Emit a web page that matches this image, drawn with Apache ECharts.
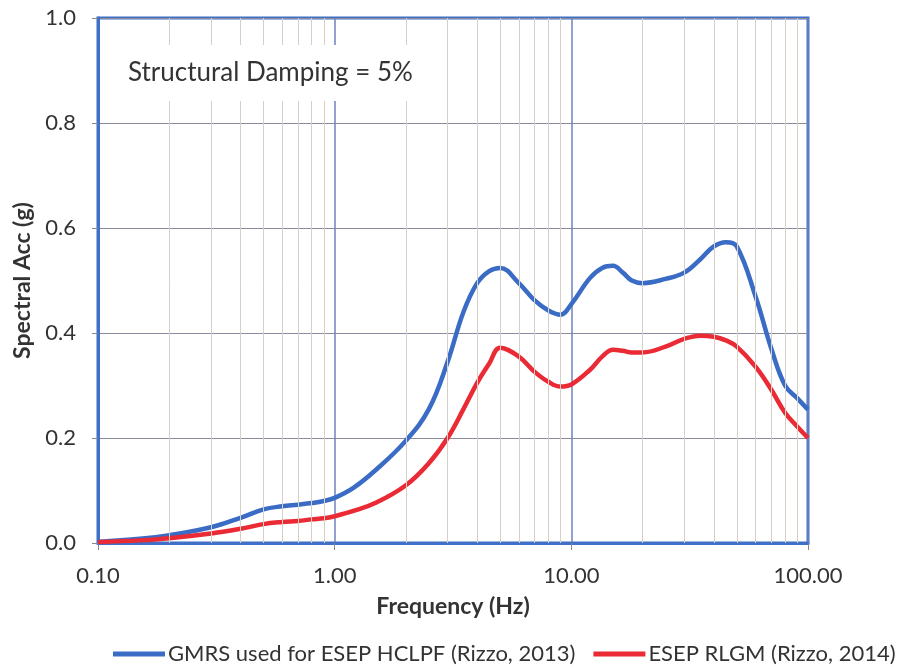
<!DOCTYPE html>
<html>
<head>
<meta charset="utf-8">
<script src="https://cdn.jsdelivr.net/npm/echarts@6/dist/echarts.min.js"></script>
<style>
  html, body { margin: 0; padding: 0; background: #fff; }
  #chart { width: 917px; height: 669px; }
</style>
</head>
<body>
<div id="chart"></div>
<script>
// frequency points (Hz) shared by both spectra
var freq = [0.1, 0.15, 0.2, 0.3, 0.4, 0.5, 0.6, 0.7, 0.8, 0.9, 1.0, 1.2, 1.5, 2.0, 2.5, 3.0, 3.5, 4.0, 4.5, 5.0,
            6.0, 7.0, 8.0, 9.0, 10, 12, 13.5, 15, 16.5, 18, 20, 25, 30, 35, 40, 45, 50, 60, 70, 80, 90, 100];
var gmrs = [0.002, 0.008, 0.015, 0.03, 0.048, 0.064, 0.070, 0.073, 0.076, 0.080, 0.086, 0.105, 0.14, 0.195, 0.255, 0.345, 0.44, 0.495, 0.518, 0.524,
            0.495, 0.462, 0.443, 0.435, 0.455, 0.505, 0.524, 0.528, 0.515, 0.5, 0.495, 0.503, 0.515, 0.54, 0.565, 0.573, 0.565, 0.47, 0.37, 0.30, 0.276, 0.254];
var rlgm = [0.002, 0.005, 0.009, 0.018, 0.027, 0.036, 0.040, 0.042, 0.045, 0.047, 0.051, 0.061, 0.077, 0.11, 0.152, 0.2, 0.255, 0.305, 0.342, 0.372,
            0.355, 0.326, 0.307, 0.298, 0.302, 0.33, 0.355, 0.368, 0.366, 0.363, 0.363, 0.374, 0.389, 0.395, 0.393, 0.386, 0.374, 0.336, 0.292, 0.248, 0.222, 0.2];
var minorFreq = [0.2, 0.3, 0.4, 0.5, 0.6, 0.7, 0.8, 0.9, 2, 3, 4, 5, 6, 7, 8, 9, 20, 30, 40, 50, 60, 70, 80, 90];
var seriesNames = ['GMRS used for ESEP HCLPF (Rizzo, 2013)', 'ESEP RLGM (Rizzo, 2014)'];
var note = 'Structural Damping = 5%';

function pairs(xs, ys) {
    return xs.map(function (x, i) { return [x, ys[i]]; });
}

var chart = echarts.init(document.getElementById('chart'));
var font = 'Lato, "Open Sans", sans-serif';

var option = {
    backgroundColor: '#ffffff',
    title: {
        text: note,
        left: 100,
        top: 45,
        padding: [15, 12, 15, 28],
        backgroundColor: '#ffffff',
        textStyle: { fontFamily: font, fontSize: 26, fontWeight: 'normal', color: '#333' }
    },
    legend: {
        data: seriesNames,
        orient: 'horizontal',
        left: 113,
        bottom: 4,
        width: 804,
        padding: 0,
        icon: 'rect',
        itemWidth: 52,
        itemHeight: 5,
        itemGap: 18,
        textStyle: { fontFamily: font, fontSize: 22, color: '#333', padding: [0, 0, 0, -2] }
    },
    grid: {
        left: 98, right: 109, top: 18, bottom: 126,
        show: true,
        borderColor: '#3f6fc6',
        borderWidth: 3
    },
    xAxis: {
        type: 'log',
        logBase: 10,
        min: 0.1,
        max: 100,
        name: 'Frequency (Hz)',
        nameLocation: 'middle',
        nameGap: 52,
        nameTextStyle: { fontFamily: font, fontSize: 23, fontWeight: 'bold', color: '#333' },
        axisLine: { show: true, lineStyle: { color: '#3f6fc6', width: 3 } },
        axisTick: { show: true, length: 7, lineStyle: { color: '#888' } },
        axisLabel: {
            margin: 22,
            fontFamily: font, fontSize: 22, color: '#333',
            formatter: function (v) { return v.toFixed(2); }
        },
        splitLine: { show: true, lineStyle: { color: '#6f82be', width: 1.5 } }
    },
    yAxis: {
        type: 'value',
        min: 0,
        max: 1,
        interval: 0.2,
        name: 'Spectral Acc (g)',
        nameLocation: 'middle',
        nameGap: 62,
        nameTextStyle: { fontFamily: font, fontSize: 23, fontWeight: 'bold', color: '#333' },
        axisLine: { show: true, lineStyle: { color: '#3f6fc6', width: 3 } },
        axisTick: { show: true, length: 6, lineStyle: { color: '#888' } },
        axisLabel: {
            margin: 22,
            fontFamily: font, fontSize: 22, color: '#333',
            formatter: function (v) { return v.toFixed(1); }
        },
        splitLine: { show: true, lineStyle: { color: '#8a8a9c', width: 1.2 } }
    },
    series: [
        {
            name: 'minor grid',
            type: 'line',
            data: [],
            z: 1,
            silent: true,
            markLine: {
                silent: true,
                symbol: ['none', 'none'],
                label: { show: false },
                lineStyle: { type: 'solid', color: '#d6d0c6', width: 1 },
                data: minorFreq.map(function (f) { return { xAxis: f }; })
            }
        },
        {
            name: seriesNames[0],
            type: 'line',
            data: pairs(freq, gmrs),
            smooth: 0.4,
            symbol: 'none',
            z: 3,
            lineStyle: { color: '#3a6cc6', width: 4.5 },
            itemStyle: { color: '#3a6cc6' }
        },
        {
            name: seriesNames[1],
            type: 'line',
            data: pairs(freq, rlgm),
            smooth: 0.4,
            symbol: 'none',
            z: 3,
            lineStyle: { color: '#ea2a34', width: 4.5 },
            itemStyle: { color: '#ea2a34' }
        }
    ]
};

chart.setOption(option);
</script>
</body>
</html>
